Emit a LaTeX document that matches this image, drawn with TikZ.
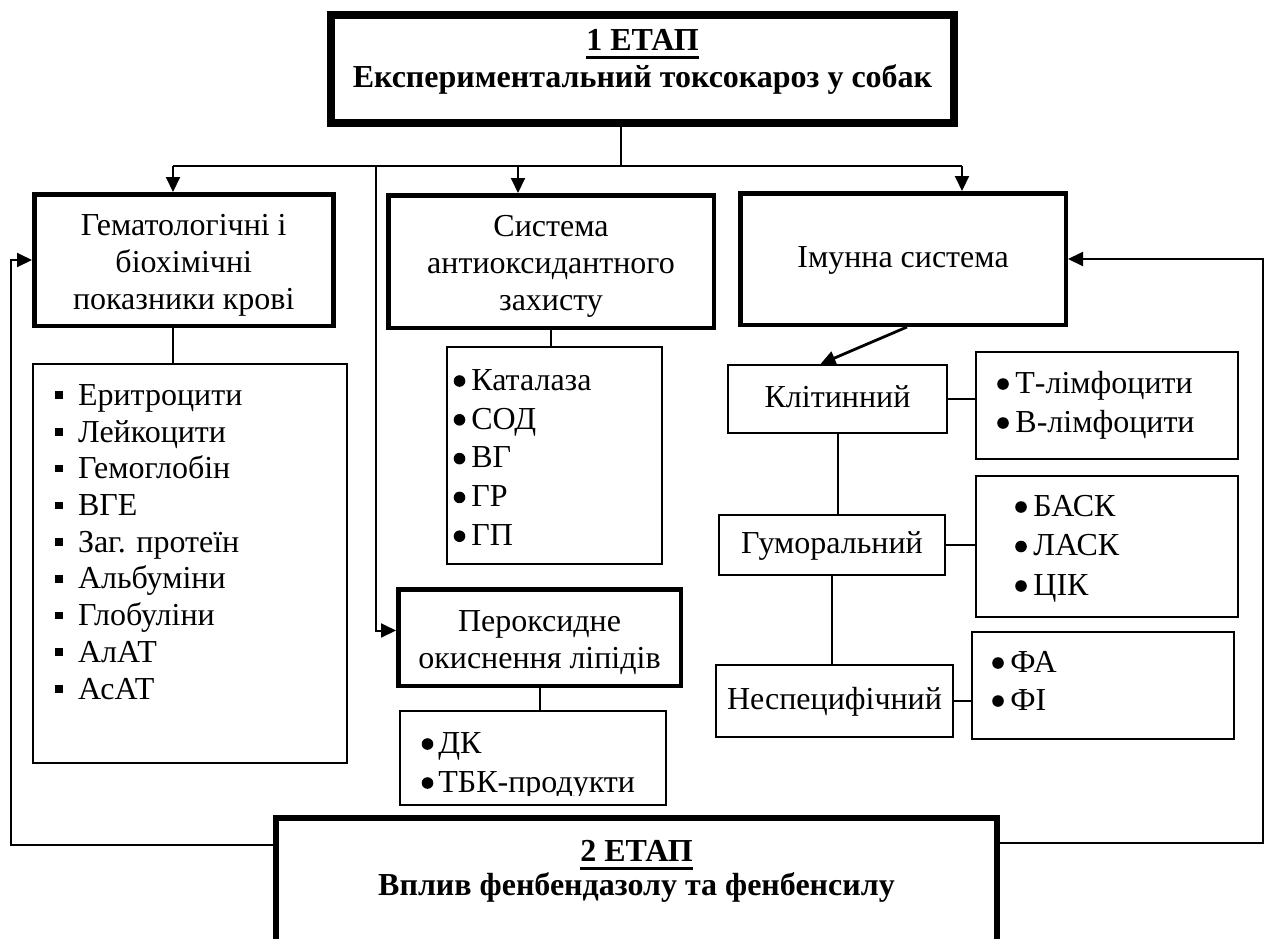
\documentclass[tikz,border=0pt]{standalone}
\usepackage{fontspec}
\setmainfont{Liberation Serif}
\usepackage{tikz}
\usetikzlibrary{positioning, arrows.meta, calc}

\newcommand\sqitem{\strut\rule[3.2pt]{4pt}{3.8pt}\hspace{7.3pt}}
\newcommand\topgap{\rule{0pt}{15.5pt}}
\newcommand\ulstage[1]{\setbox0\hbox{#1}\rlap{\rule[-4.2pt]{\wd0}{1.4pt}}\box0}

\tikzset{
  box/.style={draw, rectangle, line width=1pt, inner sep=0pt, align=center,
    font=\fontsize{16}{18.5}\selectfont},
  thickbox/.style={box, line width=2.25pt},
  oneline/.style={text height=11pt, text depth=3pt},
  stagebox/.style={draw, rectangle, line width=4pt, inner sep=0pt},
  stagetext/.style={inner sep=0pt, align=center, font=\fontsize{16}{#1}\selectfont\bfseries},
  itemlist/.style={anchor=north west, inner sep=0pt, align=left, font=\fontsize{16}{#1}\selectfont},
  link/.style={line width=1pt},
  arr/.style={line width=1pt, -{Triangle[length=7.5pt,width=7pt]}},
}

\begin{document}
\begin{tikzpicture}[x=0.5pt, y=-0.5pt]
  \clip (0,0) rectangle (1270,938);

  % etapy
  \node[stagebox, minimum width=311.5pt, minimum height=54pt] (stage1) at (642.5,69) {};
  \node[stagetext=18.5, anchor=north] (stage1txt) at (642.5,24.1)
    {\strut\ulstage{1 ЕТАП}\\\strut Експериментальний токсокароз у собак};
  \node[stagebox, line width=3pt, minimum width=360.5pt, minimum height=91pt] (stage2) at (636.5,909) {};
  \node[stagetext=16, anchor=north] (stage2txt) at (636.5,838.6)
    {\strut\ulstage{2 ЕТАП}\\\strut Вплив фенбендазолу та фенбенсилу};

  % systemy
  \node[thickbox, minimum width=149.5pt, minimum height=65.75pt] (hema) at (183.75,260)
    {\topgap Гематологічні і\\біохімічні\\показники крові};
  \node[thickbox, minimum width=162.75pt, minimum height=66.25pt] (antiox) at (551,261.5)
    {\topgap Система\\антиоксидантного\\захисту};
  \node[thickbox, oneline, minimum width=162.75pt, minimum height=65.75pt] (immune) at (903,259)
    {Імунна система};
  \node[thickbox, minimum width=141.25pt, minimum height=48.25pt] (peroks) at (539.5,637.5)
    {\topgap Пероксидне\\окиснення ліпідів};

  % imunitet
  \node[box, oneline, minimum width=109.5pt, minimum height=34pt] (cell) at (837.5,399) {Клітинний};
  \node[box, oneline, minimum width=113pt, minimum height=30pt] (humor) at (832,545) {Гуморальний};
  \node[box, oneline, minimum width=118.5pt, minimum height=36pt] (nonspec) at (834.5,701) {Неспецифічний};

  % pokaznyky
  \node[box, minimum width=157pt, minimum height=199.5pt] (hemalist) at (190,563.5) {};
  \node[itemlist=18.35] (hemaitems) at (55,379.3)
    {\sqitem Еритроцити\\\sqitem Лейкоцити\\\sqitem Гемоглобін\\\sqitem ВГЕ\\
     \sqitem Заг. протеїн\\\sqitem Альбуміни\\\sqitem Глобуліни\\\sqitem АлАТ\\\sqitem АсАТ};
  \node[box, minimum width=107.5pt, minimum height=108.5pt] (antilist) at (554.5,455.5) {};
  \node[itemlist=19.4] (antiitems) at (471,362.8)
    {\strut Каталаза\\\strut СОД\\\strut ВГ\\\strut ГР\\\strut ГП};
  \node[box, minimum width=133pt, minimum height=47pt] (perlist) at (533,758) {};
  \begin{scope}
    \clip (perlist.north west) rectangle ($(perlist.south east)+(0,-11)$);
    \node[itemlist=19.5] (peritems) at (438,725.7) {\strut ДК\\\strut ТБК-продукти};
  \end{scope}
  \node[box, minimum width=131pt, minimum height=53.5pt] (cellist) at (1107,405.5) {};
  \node[itemlist=19.5] (cellitems) at (1015,365.7) {\strut Т-лімфоцити\\\strut В-лімфоцити};
  \node[box, minimum width=131pt, minimum height=70.5pt] (humlist) at (1107,546.5) {};
  \node[itemlist=19.75] (humitems) at (1033,488.4) {\strut БАСК\\\strut ЛАСК\\\strut ЦІК};
  \node[box, minimum width=131pt, minimum height=53.5pt] (nonlist) at (1103,685.5) {};
  \node[itemlist=19] (nonitems) at (1010,645.4) {\strut ФА\\\strut ФІ};

  % markery
  \foreach \k in {0,...,4} \fill (459.5,381+38.8*\k) circle (2.9pt);
  \foreach \k in {0,1} \fill (427.5,744+39*\k) circle (2.9pt);
  \foreach \k in {0,1} \fill (1003,384+39*\k) circle (2.9pt);
  \foreach \k in {0,...,2} \fill (1021,507+39.5*\k) circle (2.9pt);
  \foreach \k in {0,1} \fill (998,663+38*\k) circle (2.9pt);

  % zvjazky
  \coordinate (split) at (621,166);
  \coordinate (busL) at (173,166);
  \coordinate (busM) at (518,166);
  \coordinate (busP) at (376,166);
  \coordinate (busR) at (962,166);
  \draw[link] (stage1.south -| split) -- (split);
  \draw[link] (busL) -- (busR);
  \draw[arr] (busL) -- (hema.north -| busL);
  \draw[arr] (busM) -- (antiox.north -| busM);
  \draw[arr] (busR) -- (immune.north -| busR);
  \draw[arr] (busP) |- ($(peroks.west)+(0,-7)$);

  \draw[link] (hema.south -| busL) -- (hemalist.north -| busL);
  \draw[link] (antiox.south) -- (antilist.north -| antiox.south);
  \draw[link] (peroks.south) -- (perlist.north -| peroks.south);
  \draw[arr, line width=1.4pt] ($(immune.south)+(4,0)$) -- ($(cell.north)+(-17,0)$);
  \draw[link] (cell.east) -- (cell.east -| cellist.west);
  \draw[link] (cell.south) -- (humor.north -| cell.south);
  \draw[link] (humor.east) -- (humor.east -| humlist.west);
  \draw[link] (humor.south) -- (nonspec.north -| humor.south);
  \draw[link] (nonspec.east) -- (nonspec.east -| nonlist.west);

  % zvorotnyj zvjazok
  \coordinate (fbL) at (11,845);
  \coordinate (fbR) at (1263,843);
  \draw[arr] (stage2.west |- fbL) -- (fbL) |- (hema.west);
  \draw[arr] (stage2.east |- fbR) -- (fbR) |- (immune.east);
\end{tikzpicture}
\end{document}
